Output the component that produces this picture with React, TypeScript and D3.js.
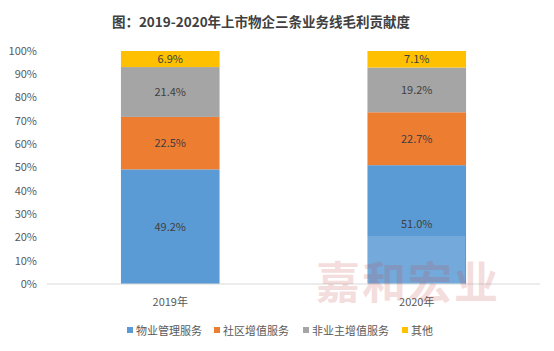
import React from "react";
import * as d3 from "d3";

const years = ["2019年", "2020年"];
const seriesNames = ["物业管理服务", "社区增值服务", "非业主增值服务", "其他"];
const propertyMgmt = [49.2, 51.0];
const communityVas = [22.5, 22.7];
const nonOwnerVas = [21.4, 19.2];
const others = [6.9, 7.1];
const yTicks = [0, 10, 20, 30, 40, 50, 60, 70, 80, 90, 100];
const colors = ["#5B9BD5", "#ED7D31", "#A5A5A5", "#FFC000"];

const W = 554;
const H = 351;
const FONT = "'Noto Sans CJK SC', 'Noto Sans', sans-serif";

export default function App() {
  const margin = { left: 47, right: 14, top: 51, bottom: 67 };
  const y0 = H - margin.bottom; // 284

  const rows = years.map((yr, i) => ({
    year: yr,
    s0: propertyMgmt[i],
    s1: communityVas[i],
    s2: nonOwnerVas[i],
    s3: others[i],
  }));
  const stack = d3.stack<any>().keys(["s0", "s1", "s2", "s3"]);
  const layers = stack(rows);

  const x = d3
    .scaleBand()
    .domain(years)
    .range([margin.left, W - margin.right])
    .paddingInner(0.6)
    .paddingOuter(0.3);
  const y = d3.scaleLinear().domain([0, 100]).range([y0, margin.top]);

  // legend positions (hand measured)
  const legendX = [127, 214, 303, 402];

  return (
    <svg
      width={W}
      height={H}
      style={{ position: "absolute", left: 0, top: 0, background: "#fff" }}
      fontFamily={FONT}
    >
      <text
        x={261}
        y={27}
        textAnchor="middle"
        fontSize={13.5}
        fontWeight="bold"
        fill="#404040"
      >
        图：2019-2020年上市物企三条业务线毛利贡献度
      </text>

      {yTicks.map((t) => (
        <text
          key={t}
          x={37}
          y={y(t)}
          dy="0.35em"
          textAnchor="end"
          fontSize={11}
          fill="#595959"
        >
          {t}%
        </text>
      ))}

      {layers.map((layer, li) => (
        <g key={li}>
          {layer.map((d, i) => {
            const bx = x(rows[i].year)!;
            const top = y(d[1]);
            const bot = y(d[0]);
            const v = d[1] - d[0];
            return (
              <g key={i}>
                <rect
                  x={bx}
                  y={top}
                  width={x.bandwidth()}
                  height={bot - top}
                  fill={colors[li]}
                />
                <text
                  x={bx + x.bandwidth() / 2}
                  y={(top + bot) / 2}
                  dy="0.35em"
                  textAnchor="middle"
                  fontSize={11}
                  fill="#404040"
                >
                  {v.toFixed(1)}%
                </text>
              </g>
            );
          })}
        </g>
      ))}

      <line
        x1={margin.left}
        x2={W - margin.right}
        y1={y0}
        y2={y0}
        stroke="#D9D9D9"
        strokeWidth={1}
      />

      {years.map((yr) => (
        <text
          key={yr}
          x={x(yr)! + x.bandwidth() / 2}
          y={306}
          textAnchor="middle"
          fontSize={11}
          fill="#595959"
        >
          {yr}
        </text>
      ))}

      {/* watermark */}
      <rect x={367} y={236} width={98} height={48} fill="#fff" opacity={0.15} />
      <text
        x={408}
        y={299}
        textAnchor="middle"
        fontSize={44}
        fontWeight="bold"
        fill="#C84848"
        opacity={0.18}
        letterSpacing={2}
      >
        嘉和宏业
      </text>

      {seriesNames.map((n, i) => (
        <g key={n}>
          <rect x={legendX[i]} y={327} width={6} height={6} fill={colors[i]} />
          <text x={legendX[i] + 9} y={331} dy="0.35em" fontSize={11} fill="#595959">
            {n}
          </text>
        </g>
      ))}
    </svg>
  );
}
